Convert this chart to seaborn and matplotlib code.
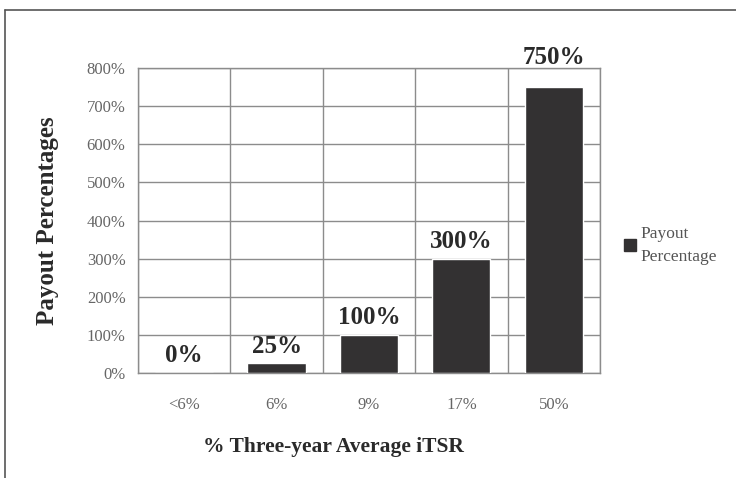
import matplotlib
matplotlib.use("Agg")
import matplotlib.pyplot as plt
import seaborn as sns
import pandas as pd
from matplotlib.ticker import FixedLocator, PercentFormatter
from matplotlib.lines import Line2D
from matplotlib.patches import Patch

# Data
categories = ['<6%', '6%', '9%', '17%', '50%']
payout = [0, 25, 100, 300, 750]
value_labels = ['0%', '25%', '100%', '300%', '750%']

df = pd.DataFrame({'itsr': categories, 'payout': payout})

sns.set_style("white")
plt.rcParams['font.family'] = ['Liberation Serif', 'DejaVu Serif']

bar_color = '#333132'
grid_color = '#8c8c8c'
tick_color = '#666666'
text_color = '#2a2a2a'

fig = plt.figure(figsize=(7.36, 4.78), dpi=100)
ax = fig.add_axes([0.1875, 0.2197, 0.6277, 0.638])

sns.barplot(data=df, x='itsr', y='payout', color=bar_color, width=0.63,
            saturation=1, ax=ax, zorder=3)

ax.set_ylim(0, 800)
ax.set_xlim(-0.5, len(categories) - 0.5)
ax.yaxis.set_major_locator(FixedLocator(range(0, 801, 100)))
ax.yaxis.set_major_formatter(PercentFormatter(decimals=0))

# vertical grid at category boundaries
ax.xaxis.set_minor_locator(FixedLocator([i - 0.5 for i in range(len(categories) + 1)]))
ax.grid(True, axis='y', which='major', color=grid_color, lw=1, zorder=0)
ax.grid(True, axis='x', which='minor', color=grid_color, lw=1, zorder=0)
ax.tick_params(axis='x', which='minor', length=6, color=grid_color, width=1)
ax.tick_params(axis='x', which='major', length=0, pad=17, labelsize=12, labelcolor=tick_color)
ax.tick_params(axis='y', length=0, pad=9, labelsize=12, labelcolor=tick_color)
for s in ax.spines.values():
    s.set_color(grid_color)
    s.set_linewidth(1)

# value labels above bars (the tallest sits above the plot frame)
offsets = [4, 4, 4, 4, 13]
for i, (v, lab) in enumerate(zip(payout, value_labels)):
    ax.annotate(lab, (i, v), xytext=(0, offsets[i]), textcoords='offset points',
                ha='center', va='bottom', fontsize=18, fontweight='bold',
                color=text_color, annotation_clip=False)

ax.set_xlabel('% Three-year Average iTSR', fontsize=15.5, fontweight='bold',
              color=text_color)
ax.xaxis.set_label_coords(0.424, -0.21)
ax.set_ylabel('Payout Percentages', fontsize=18, fontweight='bold',
              color=text_color, labelpad=20)

handles = [Patch(facecolor=bar_color, edgecolor=bar_color)]
leg = fig.legend(handles, ['Payout\nPercentage'], loc='upper left',
                 bbox_to_anchor=(0.826, 0.56), frameon=False, fontsize=12.5,
                 handlelength=0.7, handleheight=0.7, handletextpad=0.3,
                 labelcolor='#555555')
for t in leg.get_texts():
    t.set_linespacing(1.55)

# outer frame lines (left and top)
fig.add_artist(Line2D([0.007, 0.007], [0.0, 0.979], color='#555555', lw=1.2,
                      transform=fig.transFigure))
fig.add_artist(Line2D([0.007, 1.0], [0.979, 0.979], color='#555555', lw=1.2,
                      transform=fig.transFigure))

fig.savefig('out.png', dpi=100)
